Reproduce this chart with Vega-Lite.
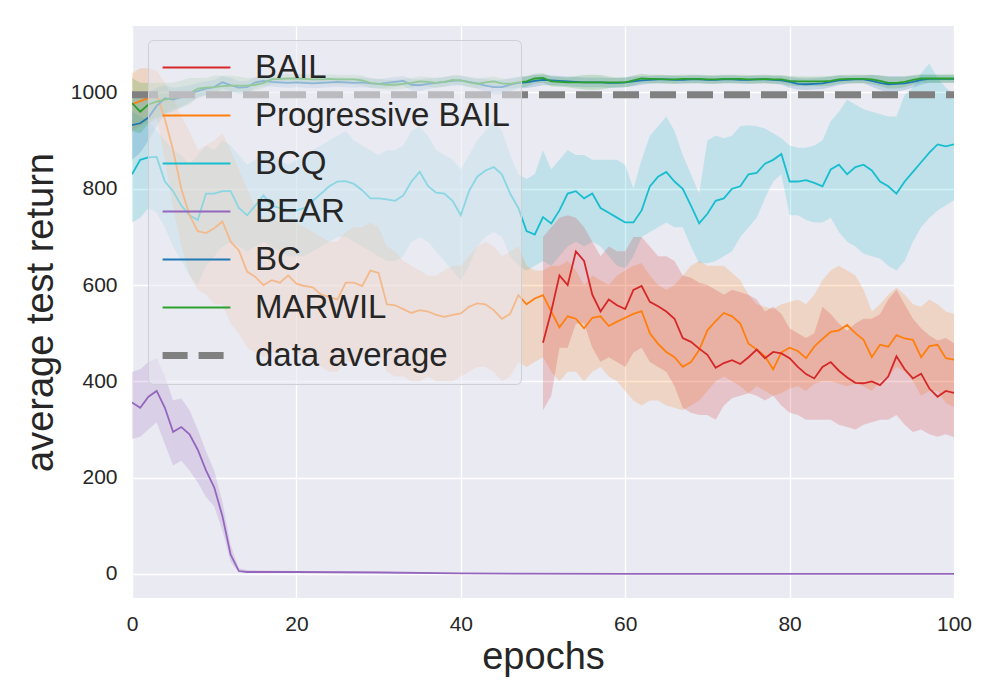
{
"$schema": "https://vega.github.io/schema/vega-lite/v6.json",
"width": 822, "height": 572,
"autosize": "none",
"padding": {"left": 132, "top": 26, "right": 46, "bottom": 102},
"background": "#FFFFFF",
"config": {
  "view": {"fill": "#EAEAF2", "stroke": null},
  "font": "Liberation Sans",
  "axis": {"domain": false, "ticks": false, "grid": true, "gridColor": "#FFFFFF", "gridWidth": 1.3, "labelFont": "Liberation Sans", "labelFontSize": 21, "labelColor": "#262626", "titleFont": "Liberation Sans", "titleFontSize": 38, "titleFontWeight": "normal", "titleColor": "#262626", "labelPadding": 14}
},
"data": {"values": [
{"method":"BCQ","epoch":0,"ret":830,"lo":730,"hi":960},
{"method":"BCQ","epoch":1,"ret":860,"lo":740,"hi":950},
{"method":"BCQ","epoch":2,"ret":865,"lo":760,"hi":940},
{"method":"BCQ","epoch":3,"ret":866,"lo":750,"hi":920},
{"method":"BCQ","epoch":4,"ret":815,"lo":720,"hi":900},
{"method":"BCQ","epoch":5,"ret":795,"lo":680,"hi":880},
{"method":"BCQ","epoch":6,"ret":765,"lo":650,"hi":870},
{"method":"BCQ","epoch":7,"ret":745,"lo":620,"hi":850},
{"method":"BCQ","epoch":8,"ret":735,"lo":600,"hi":870},
{"method":"BCQ","epoch":9,"ret":790,"lo":640,"hi":890},
{"method":"BCQ","epoch":10,"ret":790,"lo":660,"hi":880},
{"method":"BCQ","epoch":11,"ret":795,"lo":680,"hi":900},
{"method":"BCQ","epoch":12,"ret":795,"lo":690,"hi":890},
{"method":"BCQ","epoch":13,"ret":760,"lo":680,"hi":870},
{"method":"BCQ","epoch":14,"ret":745,"lo":670,"hi":850},
{"method":"BCQ","epoch":15,"ret":765,"lo":680,"hi":860},
{"method":"BCQ","epoch":16,"ret":786,"lo":690,"hi":880},
{"method":"BCQ","epoch":17,"ret":765,"lo":680,"hi":870},
{"method":"BCQ","epoch":18,"ret":760,"lo":670,"hi":860},
{"method":"BCQ","epoch":19,"ret":755,"lo":660,"hi":850},
{"method":"BCQ","epoch":20,"ret":755,"lo":660,"hi":860},
{"method":"BCQ","epoch":21,"ret":760,"lo":660,"hi":870},
{"method":"BCQ","epoch":22,"ret":775,"lo":670,"hi":880},
{"method":"BCQ","epoch":23,"ret":790,"lo":680,"hi":890},
{"method":"BCQ","epoch":24,"ret":805,"lo":690,"hi":900},
{"method":"BCQ","epoch":25,"ret":815,"lo":700,"hi":910},
{"method":"BCQ","epoch":26,"ret":816,"lo":700,"hi":920},
{"method":"BCQ","epoch":27,"ret":810,"lo":690,"hi":900},
{"method":"BCQ","epoch":28,"ret":797,"lo":680,"hi":890},
{"method":"BCQ","epoch":29,"ret":780,"lo":670,"hi":880},
{"method":"BCQ","epoch":30,"ret":780,"lo":660,"hi":870},
{"method":"BCQ","epoch":31,"ret":778,"lo":650,"hi":880},
{"method":"BCQ","epoch":32,"ret":775,"lo":650,"hi":880},
{"method":"BCQ","epoch":33,"ret":786,"lo":660,"hi":890},
{"method":"BCQ","epoch":34,"ret":815,"lo":690,"hi":920},
{"method":"BCQ","epoch":35,"ret":835,"lo":700,"hi":930},
{"method":"BCQ","epoch":36,"ret":806,"lo":690,"hi":910},
{"method":"BCQ","epoch":37,"ret":792,"lo":670,"hi":880},
{"method":"BCQ","epoch":38,"ret":790,"lo":650,"hi":870},
{"method":"BCQ","epoch":39,"ret":775,"lo":630,"hi":860},
{"method":"BCQ","epoch":40,"ret":745,"lo":610,"hi":840},
{"method":"BCQ","epoch":41,"ret":795,"lo":640,"hi":870},
{"method":"BCQ","epoch":42,"ret":825,"lo":680,"hi":900},
{"method":"BCQ","epoch":43,"ret":838,"lo":700,"hi":920},
{"method":"BCQ","epoch":44,"ret":845,"lo":710,"hi":940},
{"method":"BCQ","epoch":45,"ret":830,"lo":700,"hi":920},
{"method":"BCQ","epoch":46,"ret":790,"lo":660,"hi":870},
{"method":"BCQ","epoch":47,"ret":760,"lo":640,"hi":830},
{"method":"BCQ","epoch":48,"ret":712,"lo":630,"hi":820},
{"method":"BCQ","epoch":49,"ret":705,"lo":640,"hi":830},
{"method":"BCQ","epoch":50,"ret":741,"lo":650,"hi":880},
{"method":"BCQ","epoch":51,"ret":728,"lo":640,"hi":840},
{"method":"BCQ","epoch":52,"ret":755,"lo":660,"hi":860},
{"method":"BCQ","epoch":53,"ret":790,"lo":680,"hi":880},
{"method":"BCQ","epoch":54,"ret":795,"lo":690,"hi":870},
{"method":"BCQ","epoch":55,"ret":780,"lo":680,"hi":870},
{"method":"BCQ","epoch":56,"ret":790,"lo":690,"hi":860},
{"method":"BCQ","epoch":57,"ret":760,"lo":680,"hi":860},
{"method":"BCQ","epoch":58,"ret":750,"lo":660,"hi":860},
{"method":"BCQ","epoch":59,"ret":740,"lo":640,"hi":860},
{"method":"BCQ","epoch":60,"ret":730,"lo":635,"hi":850},
{"method":"BCQ","epoch":61,"ret":730,"lo":660,"hi":800},
{"method":"BCQ","epoch":62,"ret":755,"lo":700,"hi":860},
{"method":"BCQ","epoch":63,"ret":805,"lo":710,"hi":910},
{"method":"BCQ","epoch":64,"ret":825,"lo":720,"hi":930},
{"method":"BCQ","epoch":65,"ret":835,"lo":730,"hi":950},
{"method":"BCQ","epoch":66,"ret":815,"lo":720,"hi":920},
{"method":"BCQ","epoch":67,"ret":800,"lo":720,"hi":870},
{"method":"BCQ","epoch":68,"ret":765,"lo":680,"hi":830},
{"method":"BCQ","epoch":69,"ret":728,"lo":645,"hi":790},
{"method":"BCQ","epoch":70,"ret":748,"lo":645,"hi":900},
{"method":"BCQ","epoch":71,"ret":775,"lo":650,"hi":910},
{"method":"BCQ","epoch":72,"ret":780,"lo":660,"hi":905},
{"method":"BCQ","epoch":73,"ret":800,"lo":670,"hi":910},
{"method":"BCQ","epoch":74,"ret":805,"lo":700,"hi":930},
{"method":"BCQ","epoch":75,"ret":830,"lo":720,"hi":932},
{"method":"BCQ","epoch":76,"ret":833,"lo":740,"hi":930},
{"method":"BCQ","epoch":77,"ret":852,"lo":780,"hi":925},
{"method":"BCQ","epoch":78,"ret":860,"lo":815,"hi":915},
{"method":"BCQ","epoch":79,"ret":872,"lo":830,"hi":905},
{"method":"BCQ","epoch":80,"ret":815,"lo":745,"hi":890},
{"method":"BCQ","epoch":81,"ret":815,"lo":745,"hi":885},
{"method":"BCQ","epoch":82,"ret":818,"lo":735,"hi":885},
{"method":"BCQ","epoch":83,"ret":812,"lo":730,"hi":890},
{"method":"BCQ","epoch":84,"ret":805,"lo":730,"hi":900},
{"method":"BCQ","epoch":85,"ret":840,"lo":740,"hi":940},
{"method":"BCQ","epoch":86,"ret":850,"lo":710,"hi":960},
{"method":"BCQ","epoch":87,"ret":830,"lo":690,"hi":985},
{"method":"BCQ","epoch":88,"ret":845,"lo":680,"hi":975},
{"method":"BCQ","epoch":89,"ret":850,"lo":665,"hi":965},
{"method":"BCQ","epoch":90,"ret":838,"lo":660,"hi":960},
{"method":"BCQ","epoch":91,"ret":815,"lo":655,"hi":955},
{"method":"BCQ","epoch":92,"ret":805,"lo":640,"hi":950},
{"method":"BCQ","epoch":93,"ret":790,"lo":630,"hi":950},
{"method":"BCQ","epoch":94,"ret":815,"lo":650,"hi":995},
{"method":"BCQ","epoch":95,"ret":835,"lo":690,"hi":1010},
{"method":"BCQ","epoch":96,"ret":855,"lo":720,"hi":1040},
{"method":"BCQ","epoch":97,"ret":875,"lo":740,"hi":1060},
{"method":"BCQ","epoch":98,"ret":892,"lo":755,"hi":1030},
{"method":"BCQ","epoch":99,"ret":888,"lo":765,"hi":1010},
{"method":"BCQ","epoch":100,"ret":892,"lo":776,"hi":998},
{"method":"Progressive BAIL","epoch":0,"ret":975,"lo":920,"hi":1040},
{"method":"Progressive BAIL","epoch":1,"ret":982,"lo":930,"hi":1050},
{"method":"Progressive BAIL","epoch":2,"ret":988,"lo":940,"hi":1050},
{"method":"Progressive BAIL","epoch":3,"ret":995,"lo":950,"hi":1045},
{"method":"Progressive BAIL","epoch":4,"ret":945,"lo":860,"hi":1020},
{"method":"Progressive BAIL","epoch":5,"ret":880,"lo":760,"hi":990},
{"method":"Progressive BAIL","epoch":6,"ret":800,"lo":680,"hi":950},
{"method":"Progressive BAIL","epoch":7,"ret":745,"lo":620,"hi":920},
{"method":"Progressive BAIL","epoch":8,"ret":712,"lo":590,"hi":880},
{"method":"Progressive BAIL","epoch":9,"ret":708,"lo":580,"hi":890},
{"method":"Progressive BAIL","epoch":10,"ret":718,"lo":560,"hi":900},
{"method":"Progressive BAIL","epoch":11,"ret":732,"lo":560,"hi":915},
{"method":"Progressive BAIL","epoch":12,"ret":690,"lo":520,"hi":880},
{"method":"Progressive BAIL","epoch":13,"ret":672,"lo":500,"hi":840},
{"method":"Progressive BAIL","epoch":14,"ret":628,"lo":470,"hi":800},
{"method":"Progressive BAIL","epoch":15,"ret":617,"lo":460,"hi":760},
{"method":"Progressive BAIL","epoch":16,"ret":600,"lo":450,"hi":740},
{"method":"Progressive BAIL","epoch":17,"ret":610,"lo":460,"hi":740},
{"method":"Progressive BAIL","epoch":18,"ret":605,"lo":460,"hi":730},
{"method":"Progressive BAIL","epoch":19,"ret":620,"lo":470,"hi":740},
{"method":"Progressive BAIL","epoch":20,"ret":603,"lo":460,"hi":730},
{"method":"Progressive BAIL","epoch":21,"ret":598,"lo":450,"hi":720},
{"method":"Progressive BAIL","epoch":22,"ret":595,"lo":440,"hi":710},
{"method":"Progressive BAIL","epoch":23,"ret":580,"lo":430,"hi":700},
{"method":"Progressive BAIL","epoch":24,"ret":575,"lo":420,"hi":690},
{"method":"Progressive BAIL","epoch":25,"ret":570,"lo":420,"hi":690},
{"method":"Progressive BAIL","epoch":26,"ret":605,"lo":440,"hi":710},
{"method":"Progressive BAIL","epoch":27,"ret":605,"lo":440,"hi":720},
{"method":"Progressive BAIL","epoch":28,"ret":598,"lo":450,"hi":720},
{"method":"Progressive BAIL","epoch":29,"ret":630,"lo":470,"hi":730},
{"method":"Progressive BAIL","epoch":30,"ret":625,"lo":460,"hi":720},
{"method":"Progressive BAIL","epoch":31,"ret":560,"lo":420,"hi":680},
{"method":"Progressive BAIL","epoch":32,"ret":558,"lo":410,"hi":670},
{"method":"Progressive BAIL","epoch":33,"ret":550,"lo":410,"hi":650},
{"method":"Progressive BAIL","epoch":34,"ret":542,"lo":400,"hi":640},
{"method":"Progressive BAIL","epoch":35,"ret":548,"lo":400,"hi":630},
{"method":"Progressive BAIL","epoch":36,"ret":545,"lo":410,"hi":620},
{"method":"Progressive BAIL","epoch":37,"ret":538,"lo":400,"hi":620},
{"method":"Progressive BAIL","epoch":38,"ret":534,"lo":400,"hi":630},
{"method":"Progressive BAIL","epoch":39,"ret":538,"lo":400,"hi":640},
{"method":"Progressive BAIL","epoch":40,"ret":541,"lo":410,"hi":640},
{"method":"Progressive BAIL","epoch":41,"ret":555,"lo":420,"hi":660},
{"method":"Progressive BAIL","epoch":42,"ret":562,"lo":430,"hi":680},
{"method":"Progressive BAIL","epoch":43,"ret":560,"lo":430,"hi":690},
{"method":"Progressive BAIL","epoch":44,"ret":548,"lo":420,"hi":680},
{"method":"Progressive BAIL","epoch":45,"ret":530,"lo":400,"hi":660},
{"method":"Progressive BAIL","epoch":46,"ret":540,"lo":410,"hi":670},
{"method":"Progressive BAIL","epoch":47,"ret":579,"lo":440,"hi":680},
{"method":"Progressive BAIL","epoch":48,"ret":560,"lo":430,"hi":640},
{"method":"Progressive BAIL","epoch":49,"ret":572,"lo":440,"hi":630},
{"method":"Progressive BAIL","epoch":50,"ret":579,"lo":450,"hi":630},
{"method":"Progressive BAIL","epoch":51,"ret":545,"lo":420,"hi":640},
{"method":"Progressive BAIL","epoch":52,"ret":512,"lo":400,"hi":640},
{"method":"Progressive BAIL","epoch":53,"ret":535,"lo":420,"hi":650},
{"method":"Progressive BAIL","epoch":54,"ret":530,"lo":420,"hi":630},
{"method":"Progressive BAIL","epoch":55,"ret":510,"lo":400,"hi":600},
{"method":"Progressive BAIL","epoch":56,"ret":532,"lo":420,"hi":620},
{"method":"Progressive BAIL","epoch":57,"ret":535,"lo":430,"hi":610},
{"method":"Progressive BAIL","epoch":58,"ret":515,"lo":410,"hi":600},
{"method":"Progressive BAIL","epoch":59,"ret":524,"lo":400,"hi":620},
{"method":"Progressive BAIL","epoch":60,"ret":532,"lo":380,"hi":630},
{"method":"Progressive BAIL","epoch":61,"ret":540,"lo":360,"hi":640},
{"method":"Progressive BAIL","epoch":62,"ret":546,"lo":350,"hi":645},
{"method":"Progressive BAIL","epoch":63,"ret":500,"lo":360,"hi":620},
{"method":"Progressive BAIL","epoch":64,"ret":478,"lo":360,"hi":600},
{"method":"Progressive BAIL","epoch":65,"ret":461,"lo":350,"hi":590},
{"method":"Progressive BAIL","epoch":66,"ret":450,"lo":345,"hi":600},
{"method":"Progressive BAIL","epoch":67,"ret":430,"lo":340,"hi":620},
{"method":"Progressive BAIL","epoch":68,"ret":440,"lo":350,"hi":640},
{"method":"Progressive BAIL","epoch":69,"ret":465,"lo":360,"hi":650},
{"method":"Progressive BAIL","epoch":70,"ret":506,"lo":380,"hi":640},
{"method":"Progressive BAIL","epoch":71,"ret":525,"lo":400,"hi":640},
{"method":"Progressive BAIL","epoch":72,"ret":542,"lo":410,"hi":640},
{"method":"Progressive BAIL","epoch":73,"ret":535,"lo":400,"hi":625},
{"method":"Progressive BAIL","epoch":74,"ret":520,"lo":390,"hi":610},
{"method":"Progressive BAIL","epoch":75,"ret":478,"lo":375,"hi":580},
{"method":"Progressive BAIL","epoch":76,"ret":466,"lo":390,"hi":560},
{"method":"Progressive BAIL","epoch":77,"ret":452,"lo":380,"hi":555},
{"method":"Progressive BAIL","epoch":78,"ret":425,"lo":370,"hi":550},
{"method":"Progressive BAIL","epoch":79,"ret":460,"lo":375,"hi":560},
{"method":"Progressive BAIL","epoch":80,"ret":470,"lo":385,"hi":565},
{"method":"Progressive BAIL","epoch":81,"ret":463,"lo":390,"hi":570},
{"method":"Progressive BAIL","epoch":82,"ret":448,"lo":380,"hi":560},
{"method":"Progressive BAIL","epoch":83,"ret":472,"lo":395,"hi":580},
{"method":"Progressive BAIL","epoch":84,"ret":488,"lo":400,"hi":610},
{"method":"Progressive BAIL","epoch":85,"ret":503,"lo":400,"hi":630},
{"method":"Progressive BAIL","epoch":86,"ret":506,"lo":395,"hi":640},
{"method":"Progressive BAIL","epoch":87,"ret":517,"lo":390,"hi":630},
{"method":"Progressive BAIL","epoch":88,"ret":500,"lo":395,"hi":620},
{"method":"Progressive BAIL","epoch":89,"ret":486,"lo":390,"hi":590},
{"method":"Progressive BAIL","epoch":90,"ret":450,"lo":380,"hi":545},
{"method":"Progressive BAIL","epoch":91,"ret":476,"lo":400,"hi":560},
{"method":"Progressive BAIL","epoch":92,"ret":472,"lo":410,"hi":580},
{"method":"Progressive BAIL","epoch":93,"ret":496,"lo":430,"hi":595},
{"method":"Progressive BAIL","epoch":94,"ret":489,"lo":420,"hi":580},
{"method":"Progressive BAIL","epoch":95,"ret":486,"lo":400,"hi":560},
{"method":"Progressive BAIL","epoch":96,"ret":450,"lo":370,"hi":555},
{"method":"Progressive BAIL","epoch":97,"ret":473,"lo":380,"hi":570},
{"method":"Progressive BAIL","epoch":98,"ret":476,"lo":380,"hi":560},
{"method":"Progressive BAIL","epoch":99,"ret":448,"lo":355,"hi":545},
{"method":"Progressive BAIL","epoch":100,"ret":445,"lo":346,"hi":540},
{"method":"BAIL","epoch":50,"ret":480,"lo":340,"hi":700},
{"method":"BAIL","epoch":51,"ret":545,"lo":370,"hi":720},
{"method":"BAIL","epoch":52,"ret":620,"lo":470,"hi":740},
{"method":"BAIL","epoch":53,"ret":600,"lo":470,"hi":745},
{"method":"BAIL","epoch":54,"ret":670,"lo":520,"hi":740},
{"method":"BAIL","epoch":55,"ret":650,"lo":520,"hi":720},
{"method":"BAIL","epoch":56,"ret":580,"lo":470,"hi":690},
{"method":"BAIL","epoch":57,"ret":545,"lo":440,"hi":660},
{"method":"BAIL","epoch":58,"ret":570,"lo":450,"hi":680},
{"method":"BAIL","epoch":59,"ret":558,"lo":440,"hi":670},
{"method":"BAIL","epoch":60,"ret":550,"lo":430,"hi":670},
{"method":"BAIL","epoch":61,"ret":590,"lo":460,"hi":700},
{"method":"BAIL","epoch":62,"ret":598,"lo":470,"hi":700},
{"method":"BAIL","epoch":63,"ret":565,"lo":440,"hi":680},
{"method":"BAIL","epoch":64,"ret":556,"lo":430,"hi":660},
{"method":"BAIL","epoch":65,"ret":545,"lo":420,"hi":660},
{"method":"BAIL","epoch":66,"ret":530,"lo":390,"hi":650},
{"method":"BAIL","epoch":67,"ret":490,"lo":345,"hi":620},
{"method":"BAIL","epoch":68,"ret":482,"lo":335,"hi":615},
{"method":"BAIL","epoch":69,"ret":468,"lo":330,"hi":605},
{"method":"BAIL","epoch":70,"ret":455,"lo":330,"hi":600},
{"method":"BAIL","epoch":71,"ret":428,"lo":320,"hi":590},
{"method":"BAIL","epoch":72,"ret":438,"lo":350,"hi":580},
{"method":"BAIL","epoch":73,"ret":444,"lo":365,"hi":590},
{"method":"BAIL","epoch":74,"ret":436,"lo":370,"hi":585},
{"method":"BAIL","epoch":75,"ret":450,"lo":375,"hi":580},
{"method":"BAIL","epoch":76,"ret":466,"lo":370,"hi":570},
{"method":"BAIL","epoch":77,"ret":448,"lo":360,"hi":545},
{"method":"BAIL","epoch":78,"ret":461,"lo":370,"hi":555},
{"method":"BAIL","epoch":79,"ret":458,"lo":350,"hi":540},
{"method":"BAIL","epoch":80,"ret":448,"lo":335,"hi":510},
{"method":"BAIL","epoch":81,"ret":430,"lo":330,"hi":500},
{"method":"BAIL","epoch":82,"ret":415,"lo":320,"hi":490},
{"method":"BAIL","epoch":83,"ret":406,"lo":320,"hi":500},
{"method":"BAIL","epoch":84,"ret":430,"lo":320,"hi":555},
{"method":"BAIL","epoch":85,"ret":440,"lo":320,"hi":540},
{"method":"BAIL","epoch":86,"ret":422,"lo":310,"hi":520},
{"method":"BAIL","epoch":87,"ret":408,"lo":305,"hi":505},
{"method":"BAIL","epoch":88,"ret":397,"lo":300,"hi":520},
{"method":"BAIL","epoch":89,"ret":396,"lo":310,"hi":530},
{"method":"BAIL","epoch":90,"ret":400,"lo":315,"hi":530},
{"method":"BAIL","epoch":91,"ret":392,"lo":320,"hi":540},
{"method":"BAIL","epoch":92,"ret":410,"lo":320,"hi":570},
{"method":"BAIL","epoch":93,"ret":452,"lo":330,"hi":590},
{"method":"BAIL","epoch":94,"ret":425,"lo":310,"hi":560},
{"method":"BAIL","epoch":95,"ret":406,"lo":295,"hi":530},
{"method":"BAIL","epoch":96,"ret":416,"lo":300,"hi":510},
{"method":"BAIL","epoch":97,"ret":385,"lo":290,"hi":495},
{"method":"BAIL","epoch":98,"ret":368,"lo":285,"hi":485},
{"method":"BAIL","epoch":99,"ret":380,"lo":290,"hi":490},
{"method":"BAIL","epoch":100,"ret":376,"lo":284,"hi":479},
{"method":"BEAR","epoch":0,"ret":356,"lo":280,"hi":420},
{"method":"BEAR","epoch":1,"ret":345,"lo":285,"hi":425},
{"method":"BEAR","epoch":2,"ret":368,"lo":300,"hi":440},
{"method":"BEAR","epoch":3,"ret":380,"lo":315,"hi":448},
{"method":"BEAR","epoch":4,"ret":345,"lo":270,"hi":410},
{"method":"BEAR","epoch":5,"ret":295,"lo":225,"hi":360},
{"method":"BEAR","epoch":6,"ret":305,"lo":235,"hi":365},
{"method":"BEAR","epoch":7,"ret":290,"lo":215,"hi":340},
{"method":"BEAR","epoch":8,"ret":258,"lo":190,"hi":300},
{"method":"BEAR","epoch":9,"ret":215,"lo":160,"hi":255},
{"method":"BEAR","epoch":10,"ret":180,"lo":140,"hi":215},
{"method":"BEAR","epoch":11,"ret":120,"lo":90,"hi":150},
{"method":"BEAR","epoch":12,"ret":40,"lo":25,"hi":60},
{"method":"BEAR","epoch":13,"ret":6,"lo":3,"hi":12},
{"method":"BEAR","epoch":14,"ret":4,"lo":2,"hi":8},
{"method":"BEAR","epoch":20,"ret":4,"lo":2,"hi":6},
{"method":"BEAR","epoch":30,"ret":3,"lo":2,"hi":5},
{"method":"BEAR","epoch":40,"ret":1,"lo":0,"hi":2},
{"method":"BEAR","epoch":60,"ret":0,"lo":0,"hi":1},
{"method":"BEAR","epoch":80,"ret":0,"lo":0,"hi":1},
{"method":"BEAR","epoch":100,"ret":0,"lo":0,"hi":1},
{"method":"BC","epoch":0,"ret":932,"lo":860,"hi":1000},
{"method":"BC","epoch":1,"ret":936,"lo":875,"hi":1000},
{"method":"BC","epoch":2,"ret":948,"lo":900,"hi":1000},
{"method":"BC","epoch":3,"ret":972,"lo":930,"hi":1010},
{"method":"BC","epoch":4,"ret":988,"lo":955,"hi":1015},
{"method":"BC","epoch":5,"ret":985,"lo":960,"hi":1010},
{"method":"BC","epoch":6,"ret":990,"lo":968,"hi":1012},
{"method":"BC","epoch":7,"ret":997,"lo":980,"hi":1015},
{"method":"BC","epoch":8,"ret":1003,"lo":988,"hi":1020},
{"method":"BC","epoch":9,"ret":1008,"lo":993,"hi":1023},
{"method":"BC","epoch":10,"ret":1011,"lo":997,"hi":1026},
{"method":"BC","epoch":11,"ret":1021,"lo":1008,"hi":1034},
{"method":"BC","epoch":12,"ret":1015,"lo":1002,"hi":1030},
{"method":"BC","epoch":13,"ret":1010,"lo":997,"hi":1024},
{"method":"BC","epoch":14,"ret":1011,"lo":998,"hi":1024},
{"method":"BC","epoch":15,"ret":1021,"lo":1010,"hi":1032},
{"method":"BC","epoch":16,"ret":1024,"lo":1014,"hi":1034},
{"method":"BC","epoch":17,"ret":1022,"lo":1012,"hi":1032},
{"method":"BC","epoch":18,"ret":1021,"lo":1011,"hi":1031},
{"method":"BC","epoch":19,"ret":1020,"lo":1010,"hi":1030},
{"method":"BC","epoch":20,"ret":1021,"lo":1011,"hi":1031},
{"method":"BC","epoch":21,"ret":1020,"lo":1010,"hi":1030},
{"method":"BC","epoch":22,"ret":1019,"lo":1009,"hi":1029},
{"method":"BC","epoch":23,"ret":1020,"lo":1010,"hi":1030},
{"method":"BC","epoch":24,"ret":1021,"lo":1011,"hi":1031},
{"method":"BC","epoch":25,"ret":1022,"lo":1012,"hi":1032},
{"method":"BC","epoch":26,"ret":1021,"lo":1011,"hi":1031},
{"method":"BC","epoch":27,"ret":1020,"lo":1010,"hi":1030},
{"method":"BC","epoch":28,"ret":1021,"lo":1011,"hi":1031},
{"method":"BC","epoch":29,"ret":1019,"lo":1009,"hi":1029},
{"method":"BC","epoch":30,"ret":1018,"lo":1008,"hi":1028},
{"method":"BC","epoch":31,"ret":1020,"lo":1010,"hi":1030},
{"method":"BC","epoch":32,"ret":1022,"lo":1012,"hi":1032},
{"method":"BC","epoch":33,"ret":1024,"lo":1014,"hi":1034},
{"method":"BC","epoch":34,"ret":1016,"lo":1004,"hi":1028},
{"method":"BC","epoch":35,"ret":1015,"lo":1003,"hi":1027},
{"method":"BC","epoch":36,"ret":1018,"lo":1007,"hi":1029},
{"method":"BC","epoch":37,"ret":1020,"lo":1010,"hi":1030},
{"method":"BC","epoch":38,"ret":1022,"lo":1012,"hi":1032},
{"method":"BC","epoch":39,"ret":1024,"lo":1014,"hi":1034},
{"method":"BC","epoch":40,"ret":1025,"lo":1015,"hi":1035},
{"method":"BC","epoch":41,"ret":1022,"lo":1012,"hi":1032},
{"method":"BC","epoch":42,"ret":1019,"lo":1008,"hi":1030},
{"method":"BC","epoch":43,"ret":1014,"lo":1000,"hi":1028},
{"method":"BC","epoch":44,"ret":1011,"lo":996,"hi":1026},
{"method":"BC","epoch":45,"ret":1011,"lo":996,"hi":1026},
{"method":"BC","epoch":46,"ret":1016,"lo":1002,"hi":1030},
{"method":"BC","epoch":47,"ret":1020,"lo":1008,"hi":1032},
{"method":"BC","epoch":48,"ret":1021,"lo":1009,"hi":1033},
{"method":"BC","epoch":49,"ret":1024,"lo":1012,"hi":1036},
{"method":"BC","epoch":50,"ret":1026,"lo":1015,"hi":1037},
{"method":"BC","epoch":51,"ret":1025,"lo":1015,"hi":1035},
{"method":"BC","epoch":52,"ret":1024,"lo":1014,"hi":1034},
{"method":"BC","epoch":53,"ret":1023,"lo":1013,"hi":1033},
{"method":"BC","epoch":54,"ret":1022,"lo":1012,"hi":1032},
{"method":"BC","epoch":55,"ret":1021,"lo":1011,"hi":1031},
{"method":"BC","epoch":56,"ret":1021,"lo":1011,"hi":1031},
{"method":"BC","epoch":57,"ret":1021,"lo":1011,"hi":1031},
{"method":"BC","epoch":58,"ret":1020,"lo":1010,"hi":1030},
{"method":"BC","epoch":59,"ret":1020,"lo":1010,"hi":1030},
{"method":"BC","epoch":60,"ret":1021,"lo":1011,"hi":1031},
{"method":"BC","epoch":61,"ret":1023,"lo":1013,"hi":1033},
{"method":"BC","epoch":62,"ret":1025,"lo":1016,"hi":1034},
{"method":"BC","epoch":63,"ret":1026,"lo":1018,"hi":1034},
{"method":"BC","epoch":64,"ret":1027,"lo":1019,"hi":1035},
{"method":"BC","epoch":65,"ret":1027,"lo":1019,"hi":1035},
{"method":"BC","epoch":66,"ret":1026,"lo":1018,"hi":1034},
{"method":"BC","epoch":67,"ret":1026,"lo":1018,"hi":1034},
{"method":"BC","epoch":68,"ret":1027,"lo":1019,"hi":1035},
{"method":"BC","epoch":69,"ret":1027,"lo":1019,"hi":1035},
{"method":"BC","epoch":70,"ret":1026,"lo":1018,"hi":1034},
{"method":"BC","epoch":71,"ret":1026,"lo":1018,"hi":1034},
{"method":"BC","epoch":72,"ret":1027,"lo":1019,"hi":1035},
{"method":"BC","epoch":73,"ret":1027,"lo":1019,"hi":1035},
{"method":"BC","epoch":74,"ret":1026,"lo":1018,"hi":1034},
{"method":"BC","epoch":75,"ret":1026,"lo":1018,"hi":1034},
{"method":"BC","epoch":76,"ret":1027,"lo":1019,"hi":1035},
{"method":"BC","epoch":77,"ret":1027,"lo":1019,"hi":1035},
{"method":"BC","epoch":78,"ret":1026,"lo":1018,"hi":1034},
{"method":"BC","epoch":79,"ret":1025,"lo":1016,"hi":1034},
{"method":"BC","epoch":80,"ret":1022,"lo":1010,"hi":1032},
{"method":"BC","epoch":81,"ret":1018,"lo":1006,"hi":1030},
{"method":"BC","epoch":82,"ret":1017,"lo":1005,"hi":1029},
{"method":"BC","epoch":83,"ret":1018,"lo":1006,"hi":1030},
{"method":"BC","epoch":84,"ret":1019,"lo":1007,"hi":1031},
{"method":"BC","epoch":85,"ret":1022,"lo":1011,"hi":1033},
{"method":"BC","epoch":86,"ret":1025,"lo":1015,"hi":1035},
{"method":"BC","epoch":87,"ret":1026,"lo":1018,"hi":1034},
{"method":"BC","epoch":88,"ret":1027,"lo":1019,"hi":1035},
{"method":"BC","epoch":89,"ret":1027,"lo":1019,"hi":1035},
{"method":"BC","epoch":90,"ret":1024,"lo":1012,"hi":1036},
{"method":"BC","epoch":91,"ret":1020,"lo":1005,"hi":1035},
{"method":"BC","epoch":92,"ret":1017,"lo":1000,"hi":1034},
{"method":"BC","epoch":93,"ret":1018,"lo":1002,"hi":1034},
{"method":"BC","epoch":94,"ret":1019,"lo":1005,"hi":1033},
{"method":"BC","epoch":95,"ret":1022,"lo":1010,"hi":1034},
{"method":"BC","epoch":96,"ret":1026,"lo":1016,"hi":1036},
{"method":"BC","epoch":97,"ret":1028,"lo":1020,"hi":1036},
{"method":"BC","epoch":98,"ret":1028,"lo":1020,"hi":1036},
{"method":"BC","epoch":99,"ret":1028,"lo":1020,"hi":1036},
{"method":"BC","epoch":100,"ret":1028,"lo":1020,"hi":1036},
{"method":"MARWIL","epoch":0,"ret":978,"lo":920,"hi":1030},
{"method":"MARWIL","epoch":1,"ret":960,"lo":915,"hi":1020},
{"method":"MARWIL","epoch":2,"ret":975,"lo":935,"hi":1020},
{"method":"MARWIL","epoch":3,"ret":981,"lo":945,"hi":1020},
{"method":"MARWIL","epoch":4,"ret":985,"lo":955,"hi":1020},
{"method":"MARWIL","epoch":5,"ret":988,"lo":965,"hi":1020},
{"method":"MARWIL","epoch":6,"ret":992,"lo":970,"hi":1025},
{"method":"MARWIL","epoch":7,"ret":998,"lo":975,"hi":1030},
{"method":"MARWIL","epoch":8,"ret":1008,"lo":990,"hi":1030},
{"method":"MARWIL","epoch":9,"ret":1010,"lo":995,"hi":1030},
{"method":"MARWIL","epoch":10,"ret":1011,"lo":995,"hi":1035},
{"method":"MARWIL","epoch":11,"ret":1013,"lo":998,"hi":1035},
{"method":"MARWIL","epoch":12,"ret":1014,"lo":1000,"hi":1035},
{"method":"MARWIL","epoch":13,"ret":1014,"lo":1001,"hi":1033},
{"method":"MARWIL","epoch":14,"ret":1014,"lo":1002,"hi":1030},
{"method":"MARWIL","epoch":15,"ret":1016,"lo":1004,"hi":1030},
{"method":"MARWIL","epoch":16,"ret":1020,"lo":1009,"hi":1032},
{"method":"MARWIL","epoch":17,"ret":1027,"lo":1017,"hi":1037},
{"method":"MARWIL","epoch":18,"ret":1028,"lo":1018,"hi":1038},
{"method":"MARWIL","epoch":19,"ret":1029,"lo":1019,"hi":1039},
{"method":"MARWIL","epoch":20,"ret":1029,"lo":1019,"hi":1039},
{"method":"MARWIL","epoch":21,"ret":1028,"lo":1018,"hi":1038},
{"method":"MARWIL","epoch":22,"ret":1027,"lo":1017,"hi":1037},
{"method":"MARWIL","epoch":23,"ret":1027,"lo":1017,"hi":1037},
{"method":"MARWIL","epoch":24,"ret":1028,"lo":1018,"hi":1038},
{"method":"MARWIL","epoch":25,"ret":1027,"lo":1017,"hi":1037},
{"method":"MARWIL","epoch":26,"ret":1027,"lo":1017,"hi":1037},
{"method":"MARWIL","epoch":27,"ret":1027,"lo":1017,"hi":1037},
{"method":"MARWIL","epoch":28,"ret":1025,"lo":1015,"hi":1035},
{"method":"MARWIL","epoch":29,"ret":1020,"lo":1010,"hi":1030},
{"method":"MARWIL","epoch":30,"ret":1018,"lo":1008,"hi":1028},
{"method":"MARWIL","epoch":31,"ret":1016,"lo":1006,"hi":1026},
{"method":"MARWIL","epoch":32,"ret":1016,"lo":1006,"hi":1026},
{"method":"MARWIL","epoch":33,"ret":1018,"lo":1008,"hi":1028},
{"method":"MARWIL","epoch":34,"ret":1020,"lo":1010,"hi":1030},
{"method":"MARWIL","epoch":35,"ret":1023,"lo":1013,"hi":1033},
{"method":"MARWIL","epoch":36,"ret":1022,"lo":1012,"hi":1032},
{"method":"MARWIL","epoch":37,"ret":1020,"lo":1010,"hi":1030},
{"method":"MARWIL","epoch":38,"ret":1022,"lo":1012,"hi":1032},
{"method":"MARWIL","epoch":39,"ret":1026,"lo":1016,"hi":1036},
{"method":"MARWIL","epoch":40,"ret":1025,"lo":1015,"hi":1035},
{"method":"MARWIL","epoch":41,"ret":1021,"lo":1011,"hi":1031},
{"method":"MARWIL","epoch":42,"ret":1018,"lo":1008,"hi":1028},
{"method":"MARWIL","epoch":43,"ret":1021,"lo":1011,"hi":1031},
{"method":"MARWIL","epoch":44,"ret":1023,"lo":1013,"hi":1033},
{"method":"MARWIL","epoch":45,"ret":1019,"lo":1009,"hi":1029},
{"method":"MARWIL","epoch":46,"ret":1018,"lo":1008,"hi":1028},
{"method":"MARWIL","epoch":47,"ret":1021,"lo":1010,"hi":1032},
{"method":"MARWIL","epoch":48,"ret":1023,"lo":1012,"hi":1034},
{"method":"MARWIL","epoch":49,"ret":1029,"lo":1019,"hi":1039},
{"method":"MARWIL","epoch":50,"ret":1030,"lo":1020,"hi":1040},
{"method":"MARWIL","epoch":51,"ret":1023,"lo":1013,"hi":1033},
{"method":"MARWIL","epoch":52,"ret":1022,"lo":1012,"hi":1032},
{"method":"MARWIL","epoch":53,"ret":1021,"lo":1011,"hi":1031},
{"method":"MARWIL","epoch":54,"ret":1021,"lo":1008,"hi":1034},
{"method":"MARWIL","epoch":55,"ret":1021,"lo":1006,"hi":1036},
{"method":"MARWIL","epoch":56,"ret":1021,"lo":1005,"hi":1037},
{"method":"MARWIL","epoch":57,"ret":1021,"lo":1006,"hi":1036},
{"method":"MARWIL","epoch":58,"ret":1021,"lo":1009,"hi":1033},
{"method":"MARWIL","epoch":59,"ret":1021,"lo":1011,"hi":1031},
{"method":"MARWIL","epoch":60,"ret":1021,"lo":1011,"hi":1031},
{"method":"MARWIL","epoch":61,"ret":1025,"lo":1015,"hi":1035},
{"method":"MARWIL","epoch":62,"ret":1029,"lo":1019,"hi":1039},
{"method":"MARWIL","epoch":63,"ret":1028,"lo":1019,"hi":1037},
{"method":"MARWIL","epoch":64,"ret":1028,"lo":1019,"hi":1037},
{"method":"MARWIL","epoch":65,"ret":1027,"lo":1018,"hi":1036},
{"method":"MARWIL","epoch":66,"ret":1027,"lo":1018,"hi":1036},
{"method":"MARWIL","epoch":67,"ret":1028,"lo":1019,"hi":1037},
{"method":"MARWIL","epoch":68,"ret":1028,"lo":1019,"hi":1037},
{"method":"MARWIL","epoch":69,"ret":1028,"lo":1019,"hi":1037},
{"method":"MARWIL","epoch":70,"ret":1027,"lo":1018,"hi":1036},
{"method":"MARWIL","epoch":71,"ret":1027,"lo":1018,"hi":1036},
{"method":"MARWIL","epoch":72,"ret":1028,"lo":1019,"hi":1037},
{"method":"MARWIL","epoch":73,"ret":1028,"lo":1019,"hi":1037},
{"method":"MARWIL","epoch":74,"ret":1028,"lo":1019,"hi":1037},
{"method":"MARWIL","epoch":75,"ret":1027,"lo":1018,"hi":1036},
{"method":"MARWIL","epoch":76,"ret":1027,"lo":1018,"hi":1036},
{"method":"MARWIL","epoch":77,"ret":1028,"lo":1019,"hi":1037},
{"method":"MARWIL","epoch":78,"ret":1027,"lo":1018,"hi":1036},
{"method":"MARWIL","epoch":79,"ret":1027,"lo":1018,"hi":1036},
{"method":"MARWIL","epoch":80,"ret":1024,"lo":1014,"hi":1034},
{"method":"MARWIL","epoch":81,"ret":1023,"lo":1013,"hi":1033},
{"method":"MARWIL","epoch":82,"ret":1023,"lo":1013,"hi":1033},
{"method":"MARWIL","epoch":83,"ret":1023,"lo":1013,"hi":1033},
{"method":"MARWIL","epoch":84,"ret":1023,"lo":1013,"hi":1033},
{"method":"MARWIL","epoch":85,"ret":1024,"lo":1014,"hi":1034},
{"method":"MARWIL","epoch":86,"ret":1027,"lo":1018,"hi":1036},
{"method":"MARWIL","epoch":87,"ret":1028,"lo":1019,"hi":1037},
{"method":"MARWIL","epoch":88,"ret":1028,"lo":1019,"hi":1037},
{"method":"MARWIL","epoch":89,"ret":1028,"lo":1019,"hi":1037},
{"method":"MARWIL","epoch":90,"ret":1027,"lo":1017,"hi":1037},
{"method":"MARWIL","epoch":91,"ret":1024,"lo":1013,"hi":1035},
{"method":"MARWIL","epoch":92,"ret":1020,"lo":1008,"hi":1032},
{"method":"MARWIL","epoch":93,"ret":1020,"lo":1008,"hi":1032},
{"method":"MARWIL","epoch":94,"ret":1022,"lo":1011,"hi":1033},
{"method":"MARWIL","epoch":95,"ret":1026,"lo":1016,"hi":1036},
{"method":"MARWIL","epoch":96,"ret":1029,"lo":1020,"hi":1038},
{"method":"MARWIL","epoch":97,"ret":1029,"lo":1020,"hi":1038},
{"method":"MARWIL","epoch":98,"ret":1029,"lo":1020,"hi":1038},
{"method":"MARWIL","epoch":99,"ret":1029,"lo":1020,"hi":1038},
{"method":"MARWIL","epoch":100,"ret":1029,"lo":1020,"hi":1038},
{"method":"data average","epoch":0,"ret":995},
{"method":"data average","epoch":100,"ret":995}
]},
"encoding": {
  "x": {"field": "epoch", "type": "quantitative", "scale": {"domain": [0, 100], "nice": false, "zero": false},
        "axis": {"title": "epochs", "values": [0, 20, 40, 60, 80, 100], "labelPadding": 15, "titlePadding": 4, "labelFlush": false}},
  "y": {"field": "ret", "type": "quantitative", "scale": {"domain": [-50, 1138], "nice": false, "zero": false},
        "axis": {"title": "average test return", "values": [0, 200, 400, 600, 800, 1000], "format": "d", "labelPadding": 15, "titlePadding": 10}},
  "color": {"field": "method", "type": "nominal",
    "scale": {"domain": ["BAIL", "Progressive BAIL", "BCQ", "BEAR", "BC", "MARWIL", "data average"],
              "range": ["#d62728", "#ff7f0e", "#17becf", "#9467bd", "#1f77b4", "#2ca02c", "#808080"]},
    "legend": {
      "title": null, "orient": "none", "legendX": 16, "legendY": 14, "direction": "vertical",
      "symbolType": "stroke", "symbolSize": 4600, "symbolStrokeWidth": 2, "symbolOpacity": 1, "symbolOffset": 21,
      "labelFont": "Liberation Sans", "labelFontSize": 33, "labelColor": "#262626", "labelOffset": 42, "labelLimit": 0,
      "rowPadding": 14, "padding": 11, "cornerRadius": 5,
      "fillColor": "rgba(234,234,242,0.55)", "strokeColor": "#cfcfd6",
      "encode": {"symbols": {"update": {
        "fill": {"value": "transparent"},
        "opacity": {"value": 1},
        "strokeDash": {"signal": "datum.value === 'data average' ? [25, 11] : [1, 0]"},
        "strokeWidth": {"signal": "datum.value === 'data average' ? 7 : 2"}
      }}}
    }
  }
},
"layer": [
  {
    "transform": [{"filter": "datum.method !== 'data average'"}],
    "mark": {"type": "area", "opacity": 0.2, "clip": true},
    "encoding": {
      "y": {"field": "lo", "type": "quantitative"},
      "y2": {"field": "hi"}
    }
  },
  {
    "transform": [{"filter": "datum.method !== 'data average'"}],
    "mark": {"type": "line", "strokeWidth": 1.8, "clip": true},
    "encoding": {}
  },
  {
    "transform": [{"filter": "datum.method === 'data average'"}],
    "mark": {"type": "line", "strokeWidth": 7, "strokeDash": [26, 11], "clip": true},
    "encoding": {}
  }
]
}
